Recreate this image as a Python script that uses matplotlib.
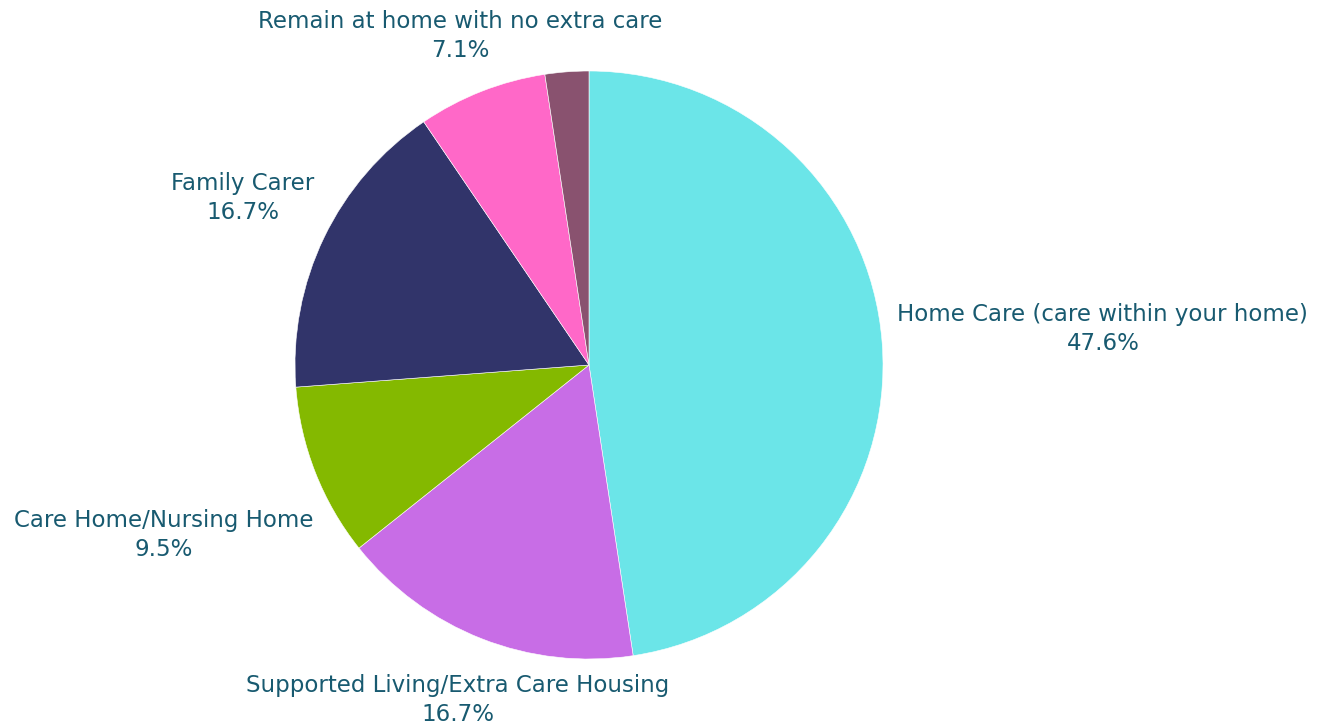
import matplotlib
matplotlib.use("Agg")
import matplotlib.pyplot as plt

labels = ["Home Care (care within your home)", "Supported Living/Extra Care Housing",
          "Care Home/Nursing Home", "Family Carer",
          "Remain at home with no extra care", ""]
shares = [47.6, 16.7, 9.5, 16.7, 7.1, 2.4]
colors = ["#6be5e8", "#c86de6", "#84b900", "#31346a", "#ff68c8", "#89526f"]

# label block centres in pie-radius units
label_pos = [(1.748, 0.122), (-0.446, -1.139), (-1.446, -0.578),
             (-1.177, 0.568), (-0.439, 1.119)]

text_color = "#185a70"

fig = plt.figure(figsize=(13.23, 7.28), dpi=100)
cx, cy, r = 589, 365, 294
ax = fig.add_axes([(cx - r) / 1323, (728 - cy - r) / 728, 2 * r / 1323, 2 * r / 728])
ax.pie(shares, colors=colors, startangle=90, counterclock=False,
       wedgeprops=dict(edgecolor="white", linewidth=0.4), radius=1)
ax.set_xlim(-1, 1)
ax.set_ylim(-1, 1)
ax.set_aspect("auto")
ax.axis("off")

for lab, val, (x, y) in zip(labels, shares, label_pos):
    ax.text(x, y, f"{lab}\n{val}%", ha="center", va="center",
            multialignment="center", fontsize=16.5, color=text_color,
            family="DejaVu Sans", linespacing=1.3, clip_on=False)

fig.savefig("out.png", dpi=100)
